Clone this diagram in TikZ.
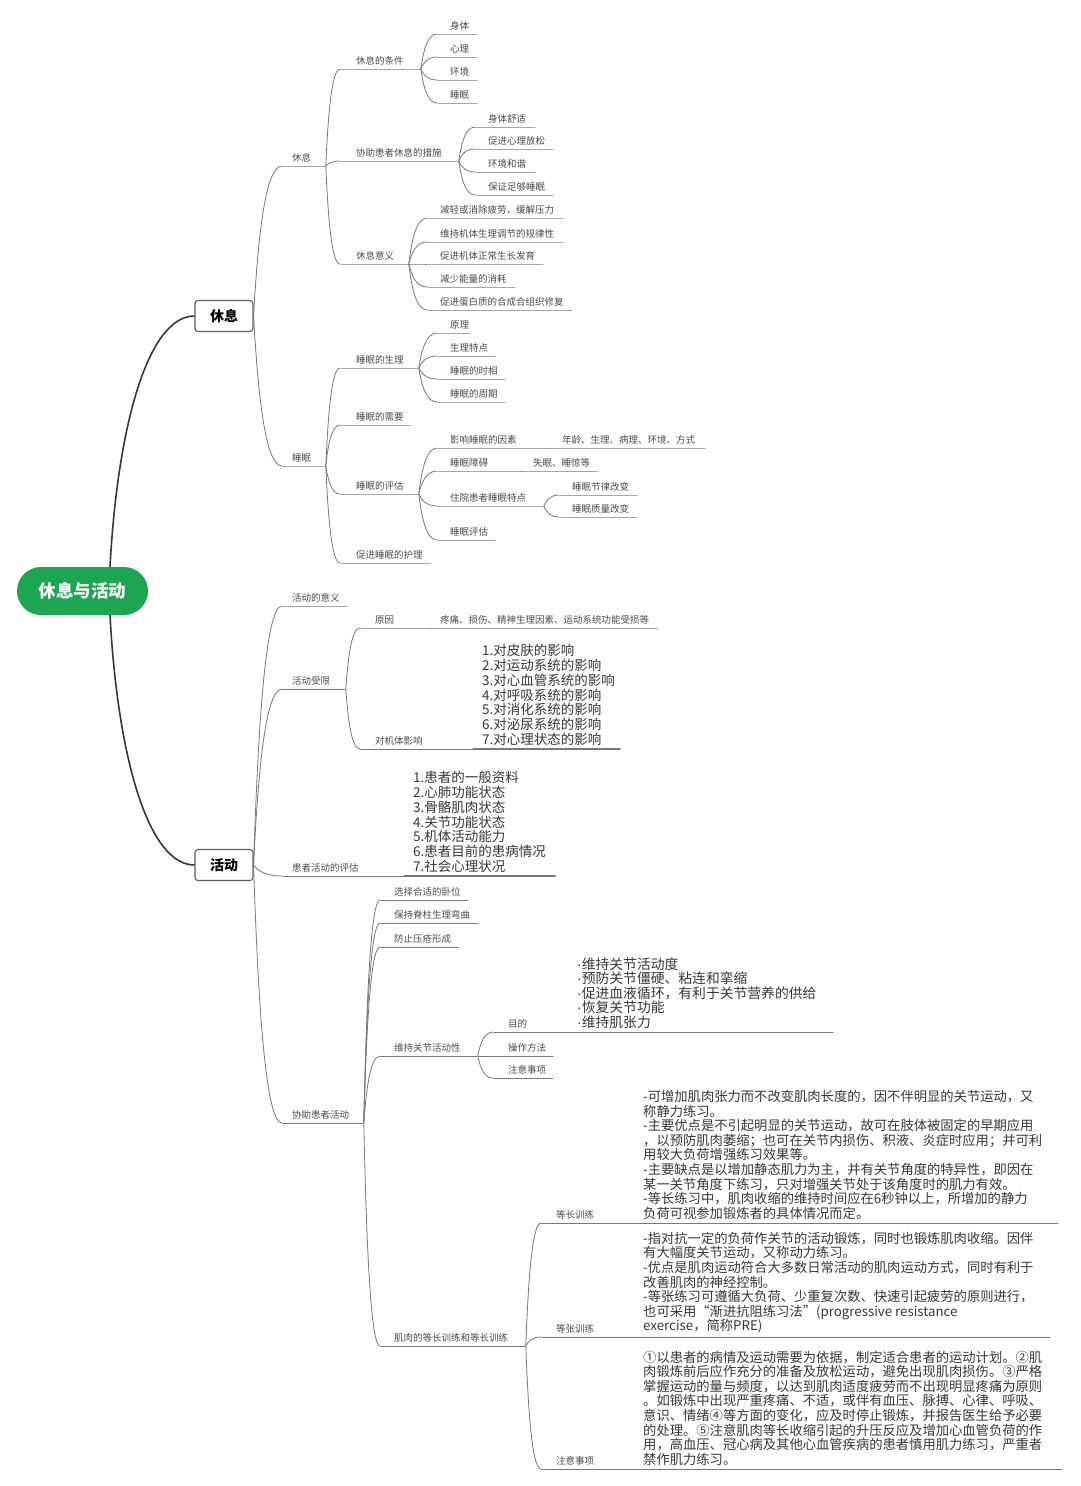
\documentclass[tikz,border=0pt]{standalone}
\usepackage{fontspec}
\setmainfont{Noto Sans CJK SC}
\newfontfamily\dotfont{Liberation Sans}
\usetikzlibrary{calc}
\definecolor{linec}{RGB}{120,120,120}
\definecolor{txtc}{RGB}{75,75,75}
\definecolor{darkc}{RGB}{55,55,55}
\definecolor{rootg}{RGB}{28,166,82}
\definecolor{boxc}{RGB}{95,95,95}
\begin{document}
\begin{tikzpicture}[x=1pt, y=-1pt,
    rootnode/.style = {rounded corners=24pt, fill=rootg, text=white, minimum width=131pt, minimum height=48pt, font=\fontsize{17.5}{20}\selectfont\bfseries},
    boxnode/.style = {draw=boxc, line width=1.1pt, rounded corners=3pt, fill=white, minimum width=58pt, minimum height=31pt, font=\fontsize{14}{16}\selectfont\bfseries},
    rootline/.style = {draw=darkc, line width=1.6pt},
    topic/.style = {draw=linec, line width=0.8pt, inner sep=0pt, minimum height=0pt, minimum width=#1, anchor=west},
    tlab/.style = {anchor=south west, inner xsep=0pt, inner ysep=3pt, xshift=#1, text=txtc, font=\fontsize{9.5}{11}\selectfont},
    tlab/.default = 13pt,
    lst/.style = {tlab=10pt, align=left, text=darkc, font=\fontsize{13.5}{14.7}\selectfont},
    blk/.style = {tlab=13pt, align=left, text=darkc, font=\fontsize{13.3}{14.6}\selectfont},
    branch/.style = {draw=linec, line width=0.8pt, to path={let \p1=(\tikztostart), \p2=(\tikztotarget) in .. controls ({0.85*\x1+0.15*\x2},{0.5*\y1+0.5*\y2}) and ({0.6*\x1+0.4*\x2},\y2) .. (\tikztotarget)}}]

    \path[use as bounding box, fill=white] (0,0) rectangle (1080,1486);

    % centre and the two main boxes
    \node[rootnode] (root) at (82.5,591) {休息与活动};
    \node[boxnode] (xiu) at (224,316) {休息};
    \node[boxnode] (huo) at (224,865) {活动};
    \draw[rootline] ([xshift=27.5pt]root.north) .. controls +(8,-147) and +(-45,0) .. (xiu.west);
    \draw[rootline] ([xshift=27.5pt]root.south) .. controls +(8,147) and +(-45,0) .. (huo.west);

    % ---- 休息 ----
    \node[topic=43pt, label={[tlab=10pt]north west:休息}] (xx) at (282,166) {};
    \node[topic=43pt, label={[tlab=10pt]north west:睡眠}] (sm) at (282,466) {};
    \draw[branch] (xiu.east) to (xx.west);
    \draw[branch] (xiu.east) to (sm.west);

    \node[topic=80pt, label={[tlab=16pt]north west:休息的条件}] (tj) at (340,69) {};
    \node[topic=118pt, label={[tlab=16pt]north west:协助患者休息的措施}] (cs) at (340,161) {};
    \node[topic=68pt, label={[tlab=16pt]north west:休息意义}] (yy) at (340,264) {};
    \draw[branch] (xx.east) to (tj.west);
    \draw[branch] (xx.east) to (cs.west);
    \draw[branch] (xx.east) to (yy.west);

    \node[topic=40pt, label={[tlab]north west:身体}] (tj1) at (437,34) {};
    \node[topic=40pt, label={[tlab]north west:心理}] (tj2) at (437,57) {};
    \node[topic=40pt, label={[tlab]north west:环境}] (tj3) at (437,80) {};
    \node[topic=40pt, label={[tlab]north west:睡眠}] (tj4) at (437,103) {};
    \draw[branch] (tj.east) to (tj1.west);
    \draw[branch] (tj.east) to (tj2.west);
    \draw[branch] (tj.east) to (tj3.west);
    \draw[branch] (tj.east) to (tj4.west);

    \node[topic=60pt, label={[tlab]north west:身体舒适}] (cs1) at (475,127) {};
    \node[topic=78pt, label={[tlab]north west:促进心理放松}] (cs2) at (475,149) {};
    \node[topic=60pt, label={[tlab]north west:环境和谐}] (cs3) at (475,172) {};
    \node[topic=78pt, label={[tlab]north west:保证足够睡眠}] (cs4) at (475,195) {};
    \draw[branch] (cs.east) to (cs1.west);
    \draw[branch] (cs.east) to (cs2.west);
    \draw[branch] (cs.east) to (cs3.west);
    \draw[branch] (cs.east) to (cs4.west);

    \node[topic=136pt, label={[tlab]north west:减轻或消除疲劳，缓解压力}] (yy1) at (427,218) {};
    \node[topic=136pt, label={[tlab]north west:维持机体生理调节的规律性}] (yy2) at (427,242) {};
    \node[topic=116pt, label={[tlab]north west:促进机体正常生长发育}] (yy3) at (427,264) {};
    \node[topic=88pt, label={[tlab]north west:减少能量的消耗}] (yy4) at (427,287) {};
    \node[topic=145pt, label={[tlab]north west:促进蛋白质的合成合组织修复}] (yy5) at (427,310) {};
    \draw[branch] (yy.east) to (yy1.west);
    \draw[branch] (yy.east) to (yy2.west);
    \draw[branch] (yy.east) to (yy3.west);
    \draw[branch] (yy.east) to (yy4.west);
    \draw[branch] (yy.east) to (yy5.west);

    \node[topic=78pt, label={[tlab=16pt]north west:睡眠的生理}] (sl) at (340,368) {};
    \node[topic=70pt, label={[tlab=16pt]north west:睡眠的需要}] (xy) at (340,425) {};
    \node[topic=78pt, label={[tlab=16pt]north west:睡眠的评估}] (pg) at (340,494) {};
    \node[topic=90pt, label={[tlab=16pt]north west:促进睡眠的护理}] (hl) at (340,563) {};
    \draw[branch] (sm.east) to (sl.west);
    \draw[branch] (sm.east) to (xy.west);
    \draw[branch] (sm.east) to (pg.west);
    \draw[branch] (sm.east) to (hl.west);

    \node[topic=33pt, label={[tlab]north west:原理}] (sl1) at (437,333) {};
    \node[topic=58pt, label={[tlab]north west:生理特点}] (sl2) at (437,356) {};
    \node[topic=68pt, label={[tlab]north west:睡眠的时相}] (sl3) at (437,379) {};
    \node[topic=68pt, label={[tlab]north west:睡眠的周期}] (sl4) at (437,402) {};
    \draw[branch] (sl.east) to (sl1.west);
    \draw[branch] (sl.east) to (sl2.west);
    \draw[branch] (sl.east) to (sl3.west);
    \draw[branch] (sl.east) to (sl4.west);

    \node[topic=112pt, label={[tlab]north west:影响睡眠的因素}] (ys) at (437,448) {};
    \node[topic=156pt, label={[tlab]north west:年龄、生理、病理、环境、方式}] (ys1) at (549,448) {};
    \node[topic=83pt, label={[tlab]north west:睡眠障碍}] (za) at (437,471) {};
    \node[topic=78pt, label={[tlab]north west:失眠、睡惊等}] (za1) at (520,471) {};
    \node[topic=106pt, label={[tlab]north west:住院患者睡眠特点}] (td) at (437,506) {};
    \node[topic=78pt, label={[tlab]north west:睡眠节律改变}] (td1) at (559,495) {};
    \node[topic=78pt, label={[tlab]north west:睡眠质量改变}] (td2) at (559,517) {};
    \node[topic=58pt, label={[tlab]north west:睡眠评估}] (sp) at (437,540) {};
    \draw[branch] (pg.east) to (ys.west);
    \draw[branch] (pg.east) to (za.west);
    \draw[branch] (pg.east) to (td.west);
    \draw[branch] (pg.east) to (sp.west);
    \draw[branch] (ys.east) to (ys1.west);
    \draw[branch] (za.east) to (za1.west);
    \draw[branch] (td.east) to (td1.west);
    \draw[branch] (td.east) to (td2.west);

    % ---- 活动 ----
    \node[topic=65pt, label={[tlab=10pt]north west:活动的意义}] (yi) at (282,606) {};
    \node[topic=63pt, label={[tlab=10pt]north west:活动受限}] (sx) at (282,689) {};
    \node[topic=121pt, label={[tlab=10pt]north west:患者活动的评估}] (hp) at (282,876) {};
    \node[topic=81pt, label={[tlab=10pt]north west:协助患者活动}] (xz) at (282,1123) {};
    \draw[branch] (huo.east) to (yi.west);
    \draw[branch] (huo.east) to (sx.west);
    \draw[branch] (huo.east) to (hp.west);
    \draw[branch] (huo.east) to (xz.west);

    \node[topic=70pt, label={[tlab=15pt]north west:原因}] (yin) at (360,628) {};
    \node[topic=228pt, label={[tlab=10pt]north west:疼痛、损伤、精神生理因素、运动系统功能受损等}] (yin1) at (430,628) {};
    \node[topic=112pt, label={[tlab=15pt]north west:对机体影响}] (jt) at (360,749) {};
    \node[topic=148pt, line width=1.2pt, label={[lst]north west:{1.对皮肤的影响\\2.对运动系统的影响\\3.对心血管系统的影响\\4.对呼吸系统的影响\\5.对消化系统的影响\\6.对泌尿系统的影响\\7.对心理状态的影响}}] (jt1) at (472,749) {};
    \draw[branch] (sx.east) to (yin.west);
    \draw[branch] (sx.east) to (jt.west);
    \draw[branch] (yin.east) to (yin1.west);
    \draw[branch] (jt.east) to (jt1.west);

    \node[topic=152pt, line width=1.2pt, label={[lst]north west:{1.患者的一般资料\\2.心肺功能状态\\3.骨骼肌肉状态\\4.关节功能状态\\5.机体活动能力\\6.患者目前的患病情况\\7.社会心理状况}}] (hp1) at (403,876) {};
    \draw[branch] (hp.east) to (hp1.west);

    \node[topic=88pt, label={[tlab=14pt]north west:选择合适的卧位}] (xz1) at (380,900) {};
    \node[topic=98pt, label={[tlab=14pt]north west:保持脊柱生理弯曲}] (xz2) at (380,923) {};
    \node[topic=78pt, label={[tlab=14pt]north west:防止压疮形成}] (xz3) at (380,947) {};
    \node[topic=97pt, label={[tlab=14pt]north west:维持关节活动性}] (gj) at (380,1056) {};
    \node[topic=145pt, label={[tlab=14pt]north west:肌肉的等长训练和等长训练}] (jr) at (380,1346) {};
    \draw[branch] (xz.east) to (xz1.west);
    \draw[branch] (xz.east) to (xz2.west);
    \draw[branch] (xz.east) to (xz3.west);
    \draw[branch] (xz.east) to (gj.west);
    \draw[branch] (xz.east) to (jr.west);

    \node[topic=77pt, label={[tlab=15pt]north west:目的}] (md) at (493,1032) {};
    \node[topic=263pt, label={[lst, xshift=-3pt, font=\fontsize{13.8}{14.5}\selectfont]north west:{{\dotfont ·}维持关节活动度\\{\dotfont ·}预防关节僵硬、粘连和挛缩\\{\dotfont ·}促进血液循环，有利于关节营养的供给\\{\dotfont ·}恢复关节功能\\{\dotfont ·}维持肌张力}}] (md1) at (570,1032) {};
    \node[topic=60pt, label={[tlab=15pt]north west:操作方法}] (cz) at (493,1056) {};
    \node[topic=60pt, label={[tlab=15pt]north west:注意事项}] (zy) at (493,1078) {};
    \draw[branch] (gj.east) to (md.west);
    \draw[branch] (gj.east) to (cz.west);
    \draw[branch] (gj.east) to (zy.west);
    \draw[branch] (md.east) to (md1.west);

    \node[topic=89pt, label={[tlab=15pt]north west:等长训练}] (dc) at (541,1223) {};
    \node[topic=428pt, label={[blk]north west:{-可增加肌肉张力而不改变肌肉长度的，因不伴明显的关节运动，又\\称静力练习。\\-主要优点是不引起明显的关节运动，故可在肢体被固定的早期应用\\，以预防肌肉萎缩；也可在关节内损伤、积液、炎症时应用；并可利\\用较大负荷增强练习效果等。\\-主要缺点是以增加静态肌力为主，并有关节角度的特异性，即因在\\某一关节角度下练习，只对增强关节处于该角度时的肌力有效。\\-等长练习中，肌肉收缩的维持时间应在6秒钟以上，所增加的静力\\负荷可视参加锻炼者的具体情况而定。}}] (dc1) at (630,1223) {};
    \node[topic=89pt, label={[tlab=15pt]north west:等张训练}] (dz) at (541,1337) {};
    \node[topic=420pt, label={[blk]north west:{-指对抗一定的负荷作关节的活动锻炼，同时也锻炼肌肉收缩。因伴\\有大幅度关节运动，又称动力练习。\\-优点是肌肉运动符合大多数日常活动的肌肉运动方式，同时有利于\\改善肌肉的神经控制。\\-等张练习可遵循大负荷、少重复次数、快速引起疲劳的原则进行，\\也可采用“渐进抗阻练习法”(progressive resistance\\exercise，简称PRE)}}] (dz1) at (630,1337) {};
    \node[topic=89pt, label={[tlab=15pt]north west:注意事项}] (zs) at (541,1469) {};
    \node[topic=432pt, label={[blk]north west:{①以患者的病情及运动需要为依据，制定适合患者的运动计划。②肌\\肉锻炼前后应作充分的准备及放松运动，避免出现肌肉损伤。③严格\\掌握运动的量与频度，以达到肌肉适度疲劳而不出现明显疼痛为原则\\。如锻炼中出现严重疼痛、不适，或伴有血压、脉搏、心律、呼吸、\\意识、情绪④等方面的变化，应及时停止锻炼，并报告医生给予必要\\的处理。⑤注意肌肉等长收缩引起的升压反应及增加心血管负荷的作\\用，高血压、冠心病及其他心血管疾病的患者慎用肌力练习，严重者\\禁作肌力练习。}}] (zs1) at (630,1469) {};
    \draw[branch] (jr.east) to (dc.west);
    \draw[branch] (jr.east) to (dz.west);
    \draw[branch] (jr.east) to (zs.west);
    \draw[branch] (dc.east) to (dc1.west);
    \draw[branch] (dz.east) to (dz1.west);
    \draw[branch] (zs.east) to (zs1.west);

\end{tikzpicture}
\end{document}
